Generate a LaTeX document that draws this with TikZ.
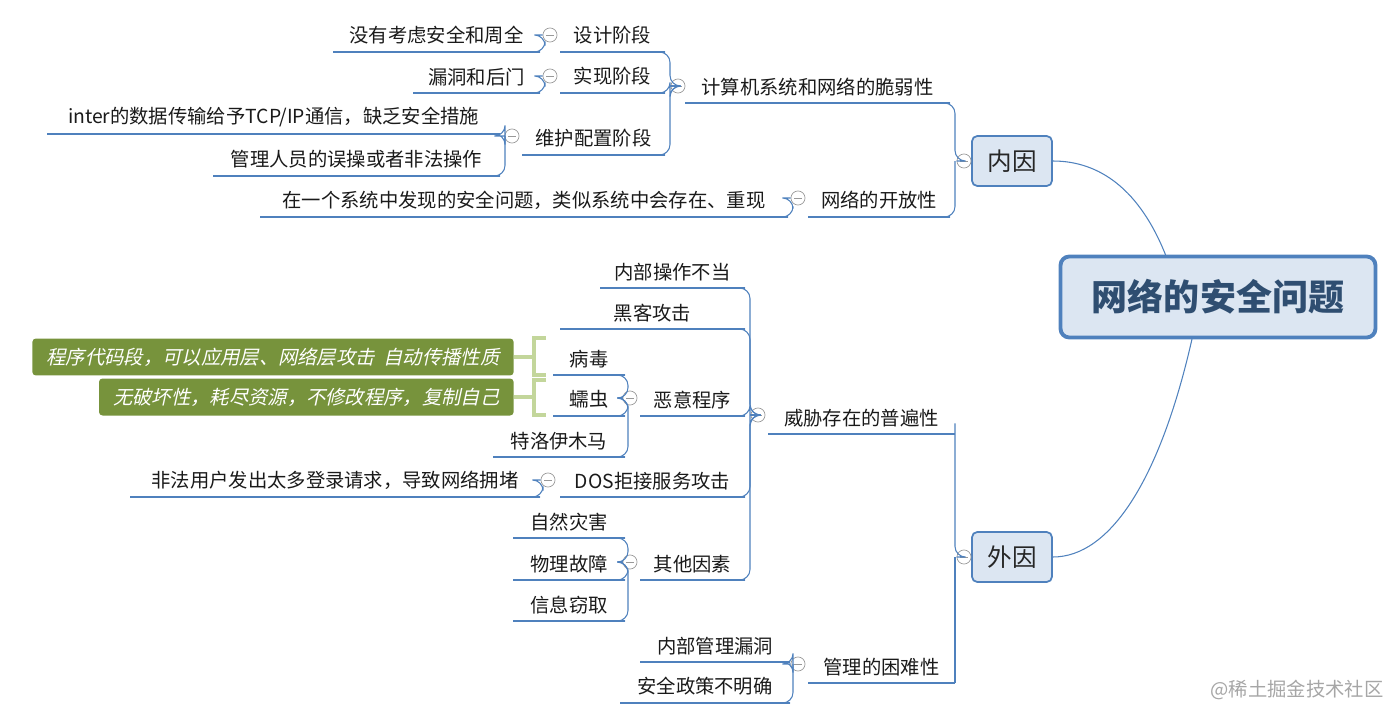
\documentclass[tikz,border=0pt]{standalone}
\usepackage{fontspec}
\setmainfont{Noto Sans CJK SC}
\newfontfamily\slcjk[FakeSlant=0.22]{Noto Sans CJK SC}
\definecolor{ln}{HTML}{4F81BD}
\definecolor{bx}{HTML}{DCE6F2}
\definecolor{gr}{HTML}{77933C}
\definecolor{lg}{HTML}{C3D69B}
\definecolor{tx}{HTML}{1A1A1A}
\tikzset{
  lab/.style={anchor=south,inner sep=4pt,font=\fontsize{11}{13}\selectfont,text=tx},
  uline/.style={draw=ln,line width=1.1pt},
  conn/.style={draw=ln,line width=0.6pt,rounded corners=6},
  mk/.style={circle,draw=gray!80,inner sep=0pt,minimum size=8pt,path picture={\draw[gray!80,line width=0.4pt] ([xshift=-2pt]path picture bounding box.center)--([xshift=2pt]path picture bounding box.center);}},
  topic/.style={draw=ln,fill=bx,rounded corners=3pt,line width=1pt,font=\fontsize{14}{16}\selectfont,text=black!85,minimum width=1.6cm,minimum height=1cm},
  gbox/.style={fill=gr,rounded corners=2pt,text=white,font=\fontsize{11}{13}\selectfont\slcjk,minimum height=0.74cm,inner xsep=8pt}
}
\newcommand\leaf[5]{\node[lab] (#1) at ({(#2+#3)/2},#4) {#5};\draw[uline] (#2,#4) -- (#3,#4);
  \coordinate (#1L) at (#2,#4); \coordinate (#1R) at (#3,#4);}
\newcommand\mkr[3]{\node[mk] (#1) at (#2,#3) {};}
\newcommand\cn[3]{\draw[conn] (#1) -| (#2,0 |- #3.center) -- (#3.west);}
\begin{document}
\begin{tikzpicture}[x=0.02cm,y=-0.02cm]
\useasboundingbox (0,0) rectangle (1397,720);
\node[draw=ln,fill=bx,rounded corners=5pt,line width=2.2pt,minimum width=6.3cm,minimum height=1.62cm,font=\fontsize{20.5}{24}\selectfont\bfseries,text=ln!60!black] (root) at (1218,297) {网络的安全问题};
\node[topic] (nei) at (1012,161) {内因};
\node[topic] (wai) at (1012,557) {外因};
\draw[ln,line width=0.6pt] (1166,256) .. controls (1140,190) and (1100,161) .. (nei.east);
\draw[ln,line width=0.6pt] (1192,339) .. controls (1160,480) and (1110,557) .. (wai.east);
\mkr{mnei}{964}{161}
\mkr{mwai}{964}{557}
\leaf{jsj}{685}{950}{103}{计算机系统和网络的脆弱性}
\leaf{kf}{808}{950}{217}{网络的开放性}
\draw[conn] (jsjR) -| (955,161) -- (mnei.west);
\draw[conn] (kfR) -| (955,161);
\mkr{mjsj}{678}{86}
\leaf{sj}{560}{665}{52}{设计阶段}
\leaf{sx}{560}{665}{93}{实现阶段}
\leaf{wh}{522}{665}{155}{维护配置阶段}
\cn{sjR}{670}{mjsj}\cn{sxR}{670}{mjsj}\cn{whR}{670}{mjsj}
\mkr{msj}{550}{35}\mkr{msx}{550}{76}\mkr{mwh}{512}{136}\mkr{mkf}{798}{198}
\leaf{a1}{333}{540}{52}{没有考虑安全和周全}
\leaf{a2}{413}{540}{93}{漏洞和后门}
\leaf{a3}{47}{500}{134}{inter的数据传输给予TCP/IP通信，缺乏安全措施}
\leaf{a4}{213}{500}{176}{管理人员的误操或者非法操作}
\leaf{a5}{260}{788}{217}{在一个系统中发现的安全问题，类似系统中会存在、重现}
\draw[conn] (a1R) -| (545,35) -- (msj.west);
\draw[conn] (a2R) -| (545,76) -- (msx.west);
\draw[conn] (a3R) -| (505,136) -- (mwh.west);
\draw[conn] (a4R) -| (505,136);
\draw[conn] (a5R) -| (793,198) -- (mkf.west);
\leaf{wx}{768}{955}{434}{威胁存在的普遍性}
\leaf{gl}{808}{955}{683}{管理的困难性}
\draw[conn] (wxR) -| (955,557) -- (mwai.west);
\draw[conn] (glR) -| (955,557);
\mkr{mwx}{758}{415}\mkr{mgl}{798}{664}
\leaf{b1}{600}{745}{288}{内部操作不当}
\leaf{b2}{560}{745}{329}{黑客攻击}
\leaf{b3}{640}{745}{416}{恶意程序}
\leaf{b4}{560}{745}{497}{DOS拒接服务攻击}
\leaf{b5}{640}{745}{580}{其他因素}
\cn{b1R}{750}{mwx}\cn{b2R}{750}{mwx}\cn{b3R}{750}{mwx}\cn{b4R}{750}{mwx}\cn{b5R}{750}{mwx}
\mkr{mb3}{630}{398}\mkr{mb4}{548}{480}\mkr{mb5}{630}{562}
\leaf{c1}{553}{625}{375}{病毒}
\leaf{c2}{553}{625}{416}{蠕虫}
\leaf{c3}{493}{625}{457}{特洛伊木马}
\cn{c1R}{628}{mb3}\cn{c2R}{628}{mb3}\cn{c3R}{628}{mb3}
\leaf{d1}{130}{540}{497}{非法用户发出太多登录请求，导致网络拥堵}
\draw[conn] (d1R) -| (543,480) -- (mb4.west);
\leaf{e1}{513}{625}{538}{自然灾害}
\leaf{e2}{513}{625}{580}{物理故障}
\leaf{e3}{513}{625}{621}{信息窃取}
\cn{e1R}{628}{mb5}\cn{e2R}{628}{mb5}\cn{e3R}{628}{mb5}
\leaf{f1}{640}{790}{662}{内部管理漏洞}
\leaf{f2}{620}{790}{703}{安全政策不明确}
\draw[conn] (f1R) -| (793,664) -- (mgl.west);
\draw[conn] (f2R) -| (793,664);
\node[gbox,anchor=east] (g1) at (514,357) {程序代码段，可以应用层、网络层攻击\ \ 自动传播性质};
\node[gbox,anchor=east] (g2) at (514,397) {无破坏性，耗尽资源，不修改程序，复制自己};
\draw[lg,line width=2.5pt] (546,338) -- (534,338) -- (534,375) -- (546,375) (534,357) -- (g1.east);
\draw[lg,line width=2.5pt] (546,380) -- (534,380) -- (534,415) -- (546,415) (534,397) -- (g2.east);
\node[text=gray!70,font=\fontsize{11}{13}\selectfont] (wm) at (1297,690) {@稀土掘金技术社区};
\end{tikzpicture}
\end{document}
